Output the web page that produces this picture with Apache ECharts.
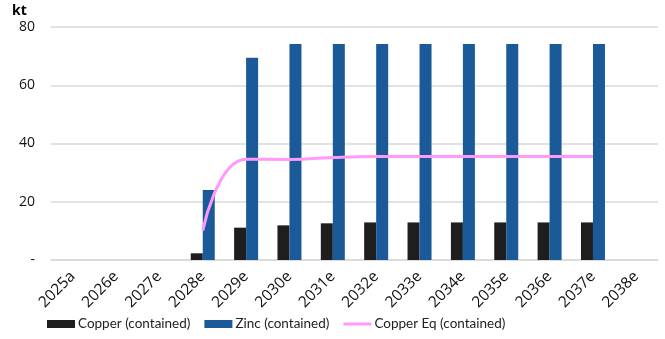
<!DOCTYPE html>
<html><head><meta charset="utf-8">
<script src="https://cdn.jsdelivr.net/npm/echarts@6/dist/echarts.min.js"></script>
<style>html,body{margin:0;padding:0;background:#fff}#c{width:665px;height:339px}</style>
</head><body><div id="c"></div>
<script>
const categories = ['2025a','2026e','2027e','2028e','2029e','2030e','2031e','2032e','2033e','2034e','2035e','2036e','2037e','2038e'];
const copper = [null,null,null,2.3,11.1,11.9,12.6,12.9,12.9,12.9,12.9,12.9,12.9,null];
const zinc = [null,null,null,24,69.4,74.2,74.2,74.2,74.2,74.2,74.2,74.2,74.2,null];
const copperEq = [null,null,null,10.1,34.6,34.5,35.2,35.5,35.5,35.5,35.5,35.5,35.5,null];
const FONT = '"Open Sans", sans-serif';
const LFONT = 'Lato, "Open Sans", sans-serif';
const chart = echarts.init(document.getElementById('c'));
chart.setOption({
  animation:false,
  textStyle:{fontFamily:FONT},
  graphic:[{type:'text',left:12,top:4,style:{text:'kt',font:'bold 14px '+FONT,fill:'#000'}}],
  grid:{left:51,right:7,top:27,bottom:79,containLabel:false},
  legend:{bottom:8,left:47,padding:0,itemGap:14,itemWidth:28,itemHeight:8,
    textStyle:{fontFamily:LFONT,fontSize:13.5,color:'#222',padding:[0,0,0,-2]},
    data:[{name:'Copper (contained)',icon:'rect'},{name:'Zinc (contained)',icon:'rect'},
      {name:'Copper Eq (contained)',icon:'path://M0,0L28,0L28,3L0,3Z'}]},
  xAxis:{type:'category',data:categories,
    axisLine:{lineStyle:{color:'#d9d9d9',width:1.5}},axisTick:{show:false},
    axisLabel:{rotate:45,fontSize:15.5,color:'#111',interval:0,margin:14,fontFamily:FONT}},
  yAxis:{type:'value',min:0,max:80,interval:20,
    axisLabel:{fontSize:14,color:'#111',margin:16,fontFamily:FONT,formatter:v=>v===0?'-':String(v)},
    splitLine:{lineStyle:{color:'#d9d9d9',width:1.5}}},
  series:[
    {name:'Copper (contained)',type:'bar',data:copper,barWidth:12,barGap:'0%',itemStyle:{color:'#1e1e1e'}},
    {name:'Zinc (contained)',type:'bar',data:zinc,barWidth:12,itemStyle:{color:'#1a5a99'}},
    {name:'Copper Eq (contained)',type:'line',data:copperEq,smooth:0.5,showSymbol:false,symbol:'none',
      lineStyle:{color:'#ff99ff',width:3},itemStyle:{color:'#ff99ff'}}
  ]
});
</script></body></html>
